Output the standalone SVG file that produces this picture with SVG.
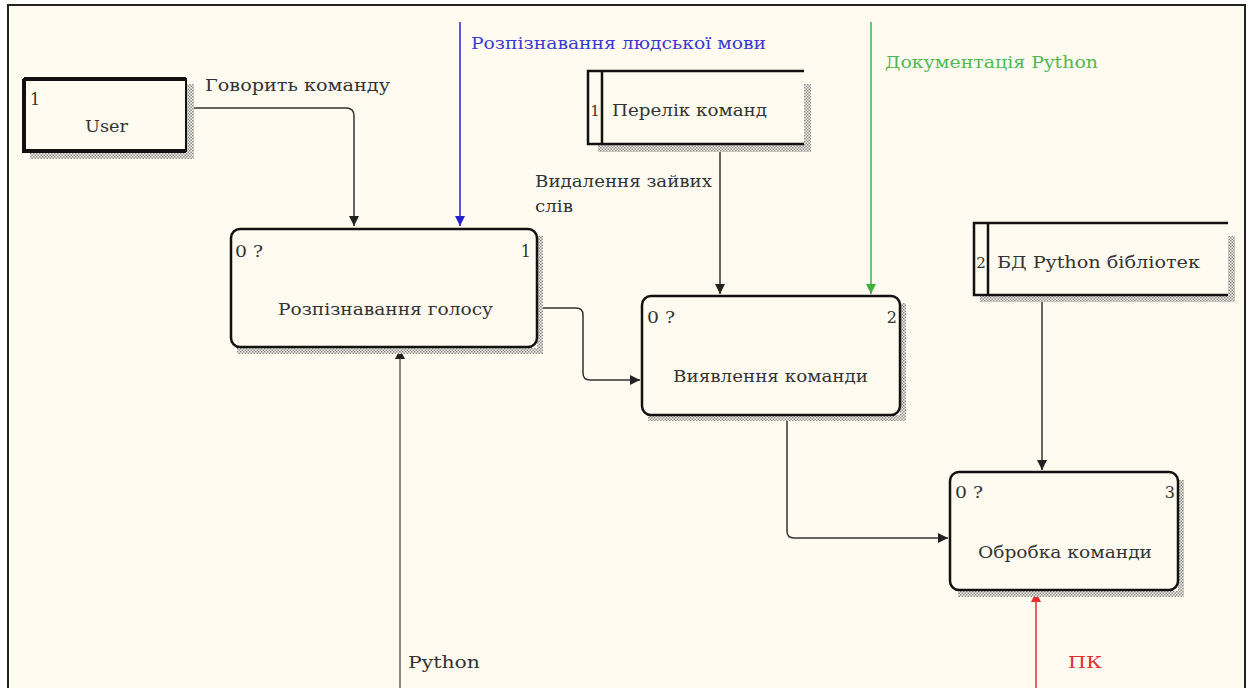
<svg xmlns="http://www.w3.org/2000/svg" width="1253" height="688" viewBox="0 0 1253 688" font-family="'DejaVu Serif', serif">
<defs>
<pattern id="hatch" width="3" height="3" patternUnits="userSpaceOnUse">
<rect width="3" height="3" fill="#fffbf0"/>
<rect width="1.5" height="1.5" fill="#8a8a8a"/>
<rect x="1.5" y="1.5" width="1.5" height="1.5" fill="#8a8a8a"/>
</pattern>
<marker id="ah" viewBox="0 0 10 10" refX="10" refY="5" markerWidth="10" markerHeight="10" markerUnits="userSpaceOnUse" orient="auto"><path d="M0,0 L10,5 L0,10 z" fill="#222"/></marker>
<marker id="ahb" viewBox="0 0 10 10" refX="10" refY="5" markerWidth="10" markerHeight="10" markerUnits="userSpaceOnUse" orient="auto"><path d="M0,0 L10,5 L0,10 z" fill="#2222cc"/></marker>
<marker id="ahg" viewBox="0 0 10 10" refX="10" refY="5" markerWidth="10" markerHeight="10" markerUnits="userSpaceOnUse" orient="auto"><path d="M0,0 L10,5 L0,10 z" fill="#40b040"/></marker>
<marker id="ahr" viewBox="0 0 10 10" refX="10" refY="5" markerWidth="10" markerHeight="10" markerUnits="userSpaceOnUse" orient="auto"><path d="M0,0 L10,5 L0,10 z" fill="#e03030"/></marker>
</defs>
<style>
text{font-family:'DejaVu Serif',serif;font-size:16px;fill:#333}
.box{fill:#fffbf0;stroke:#111;stroke-width:2.5}
.sh{fill:url(#hatch)}
.c{fill:none;stroke:#333;stroke-width:1.5}
</style>
<rect width="1253" height="688" fill="#ffffff"/>
<rect x="8" y="5" width="1237" height="690" fill="#fffbf0" stroke="#222" stroke-width="2"/>

<g id="connectors">
<path class="c" d="M187,108 H346 Q354,108 354,116 V226" marker-end="url(#ah)"/>
<path d="M460,22 V226" fill="none" stroke="#2222cc" stroke-width="1.5" marker-end="url(#ahb)"/>
<path class="c" d="M720,150 V294" marker-end="url(#ah)"/>
<path d="M871,22 V294" fill="none" stroke="#40b040" stroke-width="1.5" marker-end="url(#ahg)"/>
<path class="c" d="M537,308 H576 Q583,308 583,315 V373 Q583,380 590,380 H640" marker-end="url(#ah)"/>
<path class="c" d="M1042,295 V470" marker-end="url(#ah)"/>
<path class="c" d="M787,415 V531 Q787,538 794,538 H948" marker-end="url(#ah)"/>
<path d="M1036,688 V592" fill="none" stroke="#e03030" stroke-width="1.5" marker-end="url(#ahr)"/>
<path d="M400,688 V349" fill="none" stroke="#666" stroke-width="1.5" marker-end="url(#ah)"/>
<text x="205" y="91" textLength="185" lengthAdjust="spacingAndGlyphs">Говорить команду</text>
<text x="471" y="49" textLength="295" lengthAdjust="spacingAndGlyphs" style="fill:#3a3ad0">Розпізнавання людської мови</text>
<text x="885" y="68" textLength="213" lengthAdjust="spacingAndGlyphs" style="fill:#50b850">Документація Python</text>
<text x="535" y="187" textLength="177" lengthAdjust="spacingAndGlyphs">Видалення зайвих</text>
<text x="535" y="212" textLength="38" lengthAdjust="spacingAndGlyphs">слів</text>
<text x="1068" y="668" textLength="34" lengthAdjust="spacingAndGlyphs" style="fill:#e03030">ПК</text>
<text x="408" y="668" textLength="72" lengthAdjust="spacingAndGlyphs">Python</text>
</g>

<g id="user">
<rect class="sh" x="187" y="84" width="7" height="75"/>
<rect class="sh" x="30" y="152" width="164" height="7"/>
<rect x="24" y="79" width="162" height="72" fill="#fffbf0" stroke="#111" stroke-width="2"/>
<path d="M24,79 H186 M24,79 V151 H186" fill="none" stroke="#111" stroke-width="4"/>
<text x="30" y="105">1</text>
<text x="85" y="132" textLength="43" lengthAdjust="spacingAndGlyphs">User</text>
</g>

<g id="box1">
<path class="sh" d="M537,236 h6 v118 h-306 v-6 h300 z"/>
<rect class="box" x="231" y="229" width="306" height="118" rx="9"/>
<text x="235" y="257" textLength="28" lengthAdjust="spacingAndGlyphs">0 ?</text>
<text x="531" y="257" text-anchor="end">1</text>
<text x="278" y="315" textLength="215" lengthAdjust="spacingAndGlyphs">Розпізнавання голосу</text>
</g>

<g id="store1">
<path class="sh" d="M804,84 h7 v68 h-213 v-7 h206 z"/>
<rect x="588" y="71" width="216" height="73" fill="#fffbf0"/>
<path d="M804,71 H588 V144 H804 M602,71 V144" fill="none" stroke="#111" stroke-width="2.5"/>
<text x="595" y="116" text-anchor="middle" style="font-size:15px">1</text>
<text x="612" y="116" textLength="155" lengthAdjust="spacingAndGlyphs">Перелік команд</text>
</g>

<g id="box2">
<path class="sh" d="M900,303 h6 v118 h-258 v-6 h252 z"/>
<rect class="box" x="642" y="296" width="258" height="119" rx="9"/>
<text x="647" y="323" textLength="28" lengthAdjust="spacingAndGlyphs">0 ?</text>
<text x="897" y="323" text-anchor="end">2</text>
<text x="673" y="382" textLength="195" lengthAdjust="spacingAndGlyphs">Виявлення команди</text>
</g>

<g id="store2">
<path class="sh" d="M1228,236 h7 v66 h-255 v-7 h248 z"/>
<rect x="974" y="223" width="254" height="72" fill="#fffbf0"/>
<path d="M1228,223 H974 V295 H1228 M988,223 V295" fill="none" stroke="#111" stroke-width="2.5"/>
<text x="981" y="268" text-anchor="middle" style="font-size:15px">2</text>
<text x="997" y="268" textLength="203" lengthAdjust="spacingAndGlyphs">БД Python бібліотек</text>
</g>

<g id="box3">
<path class="sh" d="M1178,480 h6 v117 h-226 v-6 h220 z"/>
<rect class="box" x="950" y="472" width="228" height="118" rx="9"/>
<text x="955" y="498" textLength="28" lengthAdjust="spacingAndGlyphs">0 ?</text>
<text x="1175" y="498" text-anchor="end">3</text>
<text x="978" y="558" textLength="174" lengthAdjust="spacingAndGlyphs">Обробка команди</text>
</g>
</svg>
